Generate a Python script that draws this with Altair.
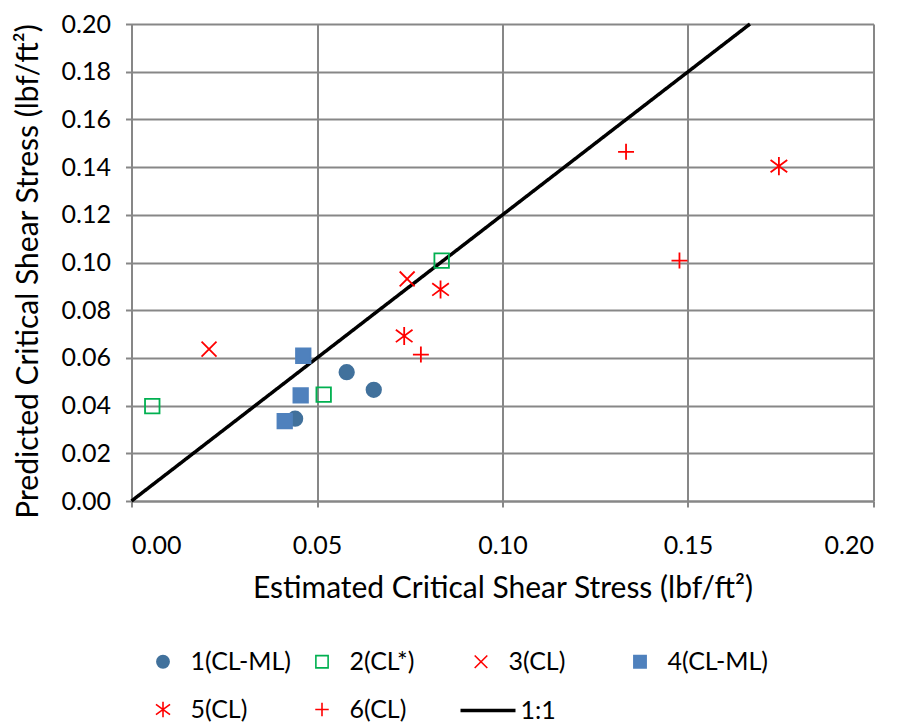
import altair as alt
import pandas as pd

series_names = ["1(CL-ML)", "2(CL*)", "3(CL)", "4(CL-ML)", "5(CL)", "6(CL)"]
s1_x = [0.0580, 0.0653, 0.0441]
s1_y = [0.0540, 0.0466, 0.0345]
s2_x = [0.0056, 0.0518, 0.0836]
s2_y = [0.0398, 0.0446, 0.1008]
s3_x = [0.0209, 0.0743]
s3_y = [0.0637, 0.0931]
s4_x = [0.0463, 0.0456, 0.0413]
s4_y = [0.0609, 0.0443, 0.0335]
s5_x = [0.0833, 0.0735, 0.1745]
s5_y = [0.0887, 0.0692, 0.1404]
s6_x = [0.0780, 0.1333, 0.1477]
s6_y = [0.0614, 0.1464, 0.1008]
line_x = [0.0, 0.1667]
line_y = [0.0, 0.2]

xs = [s1_x, s2_x, s3_x, s4_x, s5_x, s6_x]
ys = [s1_y, s2_y, s3_y, s4_y, s5_y, s6_y]
rows = []
for name, sx, sy in zip(series_names, xs, ys):
    for a, b in zip(sx, sy):
        rows.append({"series": name, "x": a, "y": b})
pts = pd.DataFrame(rows)
ln = pd.DataFrame({"x": line_x, "y": line_y, "name": ["1:1", "1:1"]})

BLUE1 = "#41719C"
BLUE4 = "#4F81BD"
GREEN = "#00B050"
RED = "#FF0000"
X_PATH = "M-1.03,-1.03L1.03,1.03M-1.03,1.03L1.03,-1.03"
AST_PATH = "M0,-1.25V1.25M-1.15,-0.85L1.15,0.85M-1.15,0.85L1.15,-0.85"
PLUS_PATH = "M-1.1,0H1.1M0,-1.1V1.1"

FONT = "Lato"

xscale = alt.Scale(domain=[0, 0.2], nice=False, zero=False)
yscale = alt.Scale(domain=[0, 0.2], nice=False, zero=False)

xaxis = alt.Axis(values=[0, 0.05, 0.1, 0.15, 0.2], format=".2f",
                 title="Estimated Critical Shear Stress (lbf/ft²)")
yaxis = alt.Axis(values=[i / 100 for i in range(0, 21, 2)], format=".2f",
                 title="Predicted Critical Shear Stress (lbf/ft²)", titleY=247)

points = alt.Chart(pts).mark_point(opacity=1, strokeWidth=1.8, size=210).encode(
    x=alt.X("x:Q", scale=xscale, axis=xaxis),
    y=alt.Y("y:Q", scale=yscale, axis=yaxis),
    shape=alt.Shape("series:N", scale=alt.Scale(
        domain=series_names,
        range=["circle", "square", X_PATH, "square", AST_PATH, PLUS_PATH])),
    stroke=alt.Stroke("series:N", scale=alt.Scale(
        domain=series_names,
        range=[BLUE1, GREEN, RED, BLUE4, RED, RED])),
    fill=alt.Fill("series:N", scale=alt.Scale(
        domain=series_names,
        range=[BLUE1, "transparent", "transparent", BLUE4, "transparent", "transparent"]),
        legend=alt.Legend(title=None, orient="none", legendX=19, legendY=625,
                          direction="horizontal", values=series_names,
                          columns=4, gridAlign="all", columnPadding=18, rowPadding=22,
                          symbolSize=150, symbolStrokeWidth=1.6, labelOffset=15,
                          labelFont=FONT, labelFontSize=25, labelColor="#000000")),
)

line = alt.Chart(ln).mark_line(color="#000000", strokeWidth=3.5).encode(
    x=alt.X("x:Q", scale=xscale),
    y=alt.Y("y:Q", scale=yscale),
    strokeDash=alt.StrokeDash("name:N", scale=alt.Scale(domain=["1:1"], range=[[1, 0]]),
                              legend=alt.Legend(title=None, orient="none", legendX=327, legendY=657,
                                                symbolSize=3025, symbolStrokeWidth=3.5,
                                                symbolStrokeColor="#000000", symbolType="stroke",
                                                labelOffset=3, labelFont=FONT, labelFontSize=25,
                                                labelColor="#000000")),
)

chart = alt.layer(line, points).properties(
    width=742, height=477,
    autosize=alt.AutoSizeParams(type="none"),
    padding={"left": 123.5, "top": 16, "right": 12, "bottom": 222},
).configure_view(stroke=None).configure_axis(
    grid=True, gridColor="#878787", gridWidth=2,
    domainColor="#878787", domainWidth=2,
    tickColor="#878787", tickWidth=2, tickSize=6,
    labelFont=FONT, labelFontSize=25, labelColor="#000000",
    titleFont=FONT, titleFontSize=30, titleFontWeight="normal", titleColor="#000000",
).configure_axisX(labelPadding=26, titlePadding=15).configure_axisY(labelPadding=15, titlePadding=18)

chart.save("out.html", embed_options={"renderer": "svg", "actions": False})
